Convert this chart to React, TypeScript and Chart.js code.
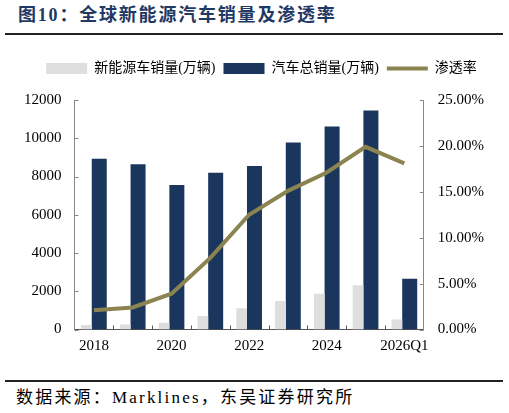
import React, { useEffect, useRef } from "react";
import { Chart, registerables } from "chart.js";

Chart.register(...registerables);

const categories = ["2018", "2019", "2020", "2021", "2022", "2023", "2024", "2025", "2026Q1"];
const nevSales = [230, 260, 350, 700, 1110, 1490, 1870, 2320, 520];
const totalSales = [8930, 8640, 7550, 8190, 8550, 9780, 10610, 11450, 2650];
const penetration = [2.1, 2.4, 3.9, 7.8, 12.5, 15.1, 17.1, 19.9, 18.1];

const seriesNames = ["新能源车销量(万辆)", "汽车总销量(万辆)", "渗透率"];
const titleText = "图10：全球新能源汽车销量及渗透率";
const sourceText = "数据来源：Marklines，东吴证券研究所";

const GRAY = "#DEDEDE";
const NAVY = "#1B365D";
const OLIVE = "#8C8450";
const FONT = '"Liberation Serif", "Noto Sans CJK SC", serif';

const inwardTicks = {
  id: "inwardTicks",
  afterDraw(chart: any) {
    const { ctx, chartArea, scales } = chart;
    const len = 4;
    ctx.save();
    ctx.lineWidth = 1;
    ctx.strokeStyle = "#888";
    const y = scales.y;
    y.ticks.forEach((t: any) => {
      const py = Math.round(y.getPixelForValue(t.value)) + 0.5;
      ctx.beginPath();
      ctx.moveTo(chartArea.left, py);
      ctx.lineTo(chartArea.left + len, py);
      ctx.stroke();
    });
    const y1 = scales.y1;
    y1.ticks.forEach((t: any) => {
      const py = Math.round(y1.getPixelForValue(t.value)) + 0.5;
      ctx.beginPath();
      ctx.moveTo(chartArea.right - len, py);
      ctx.lineTo(chartArea.right, py);
      ctx.stroke();
    });
    const x = scales.x;
    ctx.strokeStyle = "#555";
    for (let i = 1; i < categories.length; i++) {
      const px = Math.round((x.getPixelForValue(i - 1) + x.getPixelForValue(i)) / 2) + 0.5;
      ctx.beginPath();
      ctx.moveTo(px, chartArea.bottom);
      ctx.lineTo(px, chartArea.bottom - len);
      ctx.stroke();
    }
    ctx.restore();
  },
};

const legendGap = {
  id: "legendGap",
  beforeInit(chart: any) {
    const lg = chart.legend;
    const origFit = lg.fit;
    lg.fit = function () {
      origFit.bind(lg)();
      this.height += 14.5;
    };
    const origDraw = lg.draw;
    lg.draw = function () {
      const shift = 7;
      this.left += shift;
      this.right += shift;
      origDraw.bind(lg)();
      this.left -= shift;
      this.right -= shift;
    };
  },
};

export default function App() {
  const ref = useRef<HTMLCanvasElement>(null);

  useEffect(() => {
    if (!ref.current) return;
    const chart = new Chart(ref.current, {
      type: "bar",
      data: {
        labels: categories,
        datasets: [
          {
            type: "bar",
            label: seriesNames[0],
            data: nevSales,
            backgroundColor: GRAY,
            borderWidth: 0,
            yAxisID: "y",
            order: 1,
            categoryPercentage: 0.773,
            barPercentage: 0.713,
          } as any,
          {
            type: "bar",
            label: seriesNames[1],
            data: totalSales,
            backgroundColor: NAVY,
            borderWidth: 0,
            yAxisID: "y",
            order: 2,
            categoryPercentage: 0.5515,
            barPercentage: 1.402,
          } as any,
          {
            type: "line",
            label: seriesNames[2],
            data: penetration,
            borderColor: OLIVE,
            backgroundColor: OLIVE,
            borderWidth: 4,
            pointRadius: 0,
            tension: 0,
            yAxisID: "y1",
            order: 0,
          } as any,
        ],
      },
      options: {
        animation: false,
        responsive: false,
        maintainAspectRatio: false,
        layout: { padding: { left: 11, right: 11, top: 13.5, bottom: 6.5 } },
        plugins: {
          tooltip: { enabled: false },
          legend: {
            display: true,
            position: "top",
            labels: {
              usePointStyle: true,
              pointStyleWidth: 41,
              boxHeight: 11,
              padding: 8,
              color: "#000",
              font: { family: FONT, size: 14 },
              sort: (a: any, b: any) => a.datasetIndex - b.datasetIndex,
              generateLabels(ch: any) {
                const items = (Chart.defaults.plugins.legend.labels as any).generateLabels(ch);
                return items.map((it: any) => {
                  if (it.datasetIndex === 2) {
                    return { ...it, pointStyle: "line", lineWidth: 4, strokeStyle: OLIVE, fillStyle: OLIVE };
                  }
                  const c = it.datasetIndex === 0 ? GRAY : NAVY;
                  return { ...it, pointStyle: "rect", lineWidth: 0, fillStyle: c, strokeStyle: c };
                });
              },
            },
          },
        },
        scales: {
          x: {
            grid: { display: false, drawTicks: false },
            border: { display: true, color: "#555", width: 1 },
            ticks: {
              autoSkip: false,
              maxRotation: 0,
              padding: 8,
              color: "#000",
              font: { family: FONT, size: 15 },
              callback: (_v: any, i: number) => (i % 2 === 0 ? categories[i] : ""),
            },
          },
          y: {
            position: "left",
            min: 0,
            max: 12000,
            grid: { display: false, drawTicks: false },
            border: { display: true, color: "#888", width: 1 },
            ticks: {
              stepSize: 2000,
              padding: 13,
              color: "#000",
              font: { family: FONT, size: 15 },
              callback: (v: any) => String(v),
            },
          },
          y1: {
            position: "right",
            min: 0,
            max: 25,
            grid: { display: false, drawTicks: false },
            border: { display: true, color: "#888", width: 1 },
            ticks: {
              stepSize: 5,
              padding: 14,
              color: "#000",
              font: { family: FONT, size: 15 },
              callback: (v: any) => Number(v).toFixed(2) + "%",
            },
          },
        },
      },
      plugins: [legendGap, inwardTicks],
    });
    return () => chart.destroy();
  }, []);

  return (
    <div
      style={{
        position: "fixed",
        left: 0,
        top: 0,
        width: 509,
        height: 413,
        background: "#fff",
        overflow: "hidden",
      }}
    >
      <div
        style={{
          position: "absolute",
          left: 18,
          top: 5,
          fontFamily: FONT,
          fontWeight: "bold",
          fontSize: 18,
          lineHeight: "20px",
          letterSpacing: 1.8,
          color: "#1F3864",
          whiteSpace: "nowrap",
        }}
      >
        {titleText}
      </div>
      <div style={{ position: "absolute", left: 5, top: 33, width: 498, height: 2, background: "#222" }} />
      <div style={{ position: "absolute", left: 0, top: 40, width: 509, height: 330 }}>
        <canvas ref={ref} width={509} height={330} style={{ display: "block" }} />
      </div>
      <div style={{ position: "absolute", left: 5, top: 380, width: 498, height: 2, background: "#222" }} />
      <div
        style={{
          position: "absolute",
          left: 16,
          top: 388,
          fontFamily: FONT,
          fontSize: 17,
          lineHeight: "20px",
          letterSpacing: 2.2,
          color: "#000",
          whiteSpace: "nowrap",
        }}
      >
        {sourceText}
      </div>
    </div>
  );
}
